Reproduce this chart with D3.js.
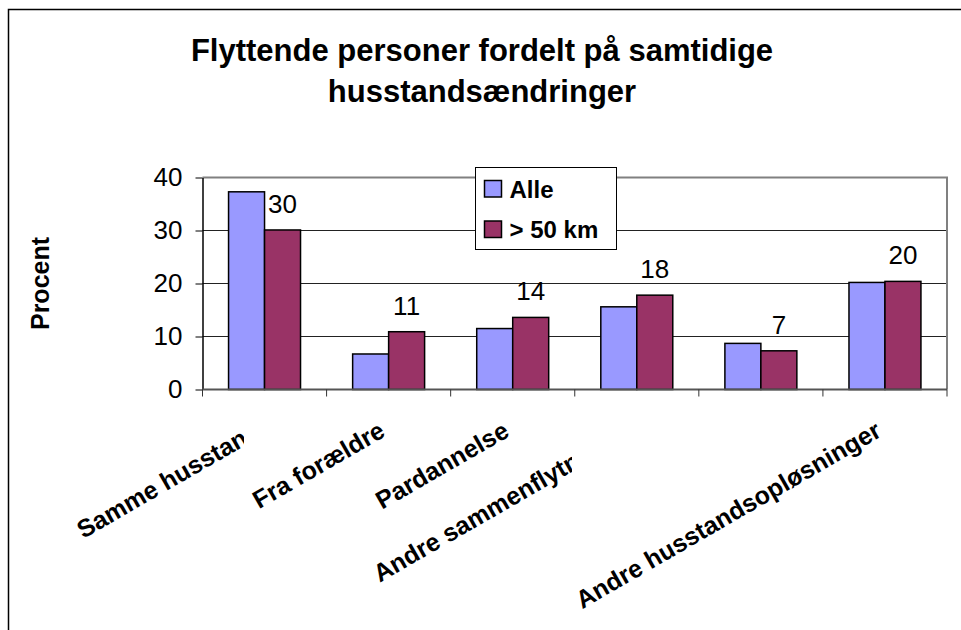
<!DOCTYPE html>
<html>
<head>
<meta charset="utf-8">
<script src="https://cdnjs.cloudflare.com/ajax/libs/d3/7.8.5/d3.min.js"></script>
<style>
  body { margin: 0; background: #fff; }
  text { font-family: "Liberation Sans", Arial, sans-serif; fill: #000; }
</style>
</head>
<body>
<script>
// values (percent)
var categories = ["Samme husstand", "Fra forældre", "Pardannelse", "Andre sammenflytninger", "", "Andre husstandsopløsninger"]
var seriesNames = ["Alle", "> 50 km"]
var alle = [37.3, 6.7, 11.5, 15.6, 8.7, 20.2]
var over50 = [30.1, 10.9, 13.6, 17.8, 7.3, 20.4]
var yTicks = [0, 10, 20, 30, 40]
var titleLines = ["Flyttende personer fordelt på samtidige", "husstandsændringer"]
var yTitle = "Procent"

var colors = ["#9999ff", "#993366"]
var width = 961, height = 630
var plot = { left: 202.5, right: 947, top: 177.5, bottom: 389.5 }

var svg = d3.select("body").append("svg")
  .attr("width", width)
  .attr("height", height)

// chart frame (only left and top edges are inside the picture)
svg.append("rect")
  .attr("x", 8.5).attr("y", 9.5)
  .attr("width", width + 20).attr("height", height + 20)
  .attr("fill", "#fff").attr("stroke", "#000").attr("stroke-width", 1.5)

var x = d3.scaleBand()
  .domain(d3.range(categories.length))
  .range([plot.left, plot.right])
var xs = d3.scaleBand()
  .domain(d3.range(seriesNames.length))
  .range([x.bandwidth() * 0.21, x.bandwidth() * 0.79])
var y = d3.scaleLinear()
  .domain([0, 40])
  .range([plot.bottom, plot.top])

// gridlines
svg.append("g").selectAll("line")
  .data(yTicks.filter(function (d) { return d > 0 && d < 40 }))
  .enter().append("line")
  .attr("x1", plot.left).attr("x2", plot.right)
  .attr("y1", function (d) { return y(d) }).attr("y2", function (d) { return y(d) })
  .attr("stroke", "#222").attr("stroke-width", 1)

// plot border top / right
svg.append("path")
  .attr("d", "M" + plot.left + "," + y(40) + "H" + plot.right + "V" + plot.bottom)
  .attr("fill", "none").attr("stroke", "#808080").attr("stroke-width", 2)

// bars
var rows = categories.map(function (c, i) { return [alle[i], over50[i]] })
var groups = svg.append("g").selectAll("g")
  .data(rows)
  .enter().append("g")
  .attr("transform", function (d, i) { return "translate(" + x(i) + ",0)" })
groups.selectAll("rect")
  .data(function (d) { return d })
  .enter().append("rect")
  .attr("x", function (d, j) { return xs(j) })
  .attr("width", xs.bandwidth())
  .attr("y", function (d) { return y(d) })
  .attr("height", function (d) { return y(0) - y(d) })
  .attr("fill", function (d, j) { return colors[j] })
  .attr("stroke", "#000").attr("stroke-width", 1.5)

// value labels for > 50 km
svg.append("g").selectAll("text")
  .data(over50)
  .enter().append("text")
  .attr("x", function (d, i) { return x(i) + xs(1) + xs.bandwidth() / 2 })
  .attr("y", function (d) { return y(d) - 17 })
  .attr("text-anchor", "middle")
  .style("font-size", "26px")
  .text(function (d) { return Math.round(d) })

// y axis
var yAxis = svg.append("g")
  .attr("transform", "translate(" + plot.left + ",0)")
  .call(d3.axisLeft(y).tickValues(yTicks).tickSize(7).tickSizeOuter(0).tickPadding(13))
yAxis.select(".domain").attr("stroke", "#000").attr("stroke-width", 1.5)
yAxis.selectAll(".tick line").attr("stroke", "#000")
yAxis.selectAll("text").style("font-size", "26px").attr("font-family", null)

// x axis line and ticks at category edges
svg.append("line")
  .attr("x1", plot.left).attr("x2", plot.right)
  .attr("y1", plot.bottom).attr("y2", plot.bottom)
  .attr("stroke", "#555").attr("stroke-width", 2)
svg.append("g").selectAll("line")
  .data(d3.range(categories.length + 1))
  .enter().append("line")
  .attr("x1", function (i) { return plot.left + i * x.bandwidth() })
  .attr("x2", function (i) { return plot.left + i * x.bandwidth() })
  .attr("y1", plot.bottom).attr("y2", plot.bottom + 7)
  .attr("stroke", "#333").attr("stroke-width", 1)

// category labels, rotated; long ones get cut off like in the original
var clipAt = { 0: 244, 3: 572 }
var defs = svg.append("defs")
Object.keys(clipAt).forEach(function (k) {
  defs.append("clipPath").attr("id", "clip" + k)
    .append("rect").attr("x", 0).attr("y", 0).attr("width", clipAt[k]).attr("height", height)
})
var xl = svg.append("g").selectAll("g")
  .data(categories)
  .enter().append("g")
  .attr("clip-path", function (d, i) { return clipAt[i] ? "url(#clip" + i + ")" : null })
xl.append("text")
  .attr("text-anchor", "end")
  .attr("transform", function (d, i) {
    return "translate(" + (x(i) + x.bandwidth() / 2 - 2) + "," + (plot.bottom + 46) + ") rotate(-30)"
  })
  .style("font-size", "25px").style("font-weight", "bold")
  .text(function (d) { return d })

// y title
svg.append("text")
  .attr("transform", "translate(49," + (plot.top + plot.bottom) / 2 + ") rotate(-90)")
  .attr("text-anchor", "middle")
  .style("font-size", "25px").style("font-weight", "bold")
  .text(yTitle)

// title
svg.append("g").selectAll("text")
  .data(titleLines)
  .enter().append("text")
  .attr("x", 482)
  .attr("y", function (d, i) { return 61 + i * 41 })
  .attr("text-anchor", "middle")
  .style("font-size", "31px").style("font-weight", "bold")
  .text(function (d) { return d })

// legend
var legend = svg.append("g").attr("transform", "translate(475.5,167.5)")
legend.append("rect")
  .attr("width", 141).attr("height", 82)
  .attr("fill", "#fff").attr("stroke", "#000").attr("stroke-width", 1)
var li = legend.selectAll("g.item")
  .data(seriesNames)
  .enter().append("g").attr("class", "item")
  .attr("transform", function (d, i) { return "translate(9," + (13 + i * 40.5) + ")" })
li.append("rect")
  .attr("width", 17).attr("height", 16.5)
  .attr("fill", function (d, i) { return colors[i] })
  .attr("stroke", "#000").attr("stroke-width", 1.5)
li.append("text")
  .attr("x", 25).attr("y", 17)
  .style("font-size", "24px").style("font-weight", "bold")
  .text(function (d) { return d })
</script>
</body>
</html>
